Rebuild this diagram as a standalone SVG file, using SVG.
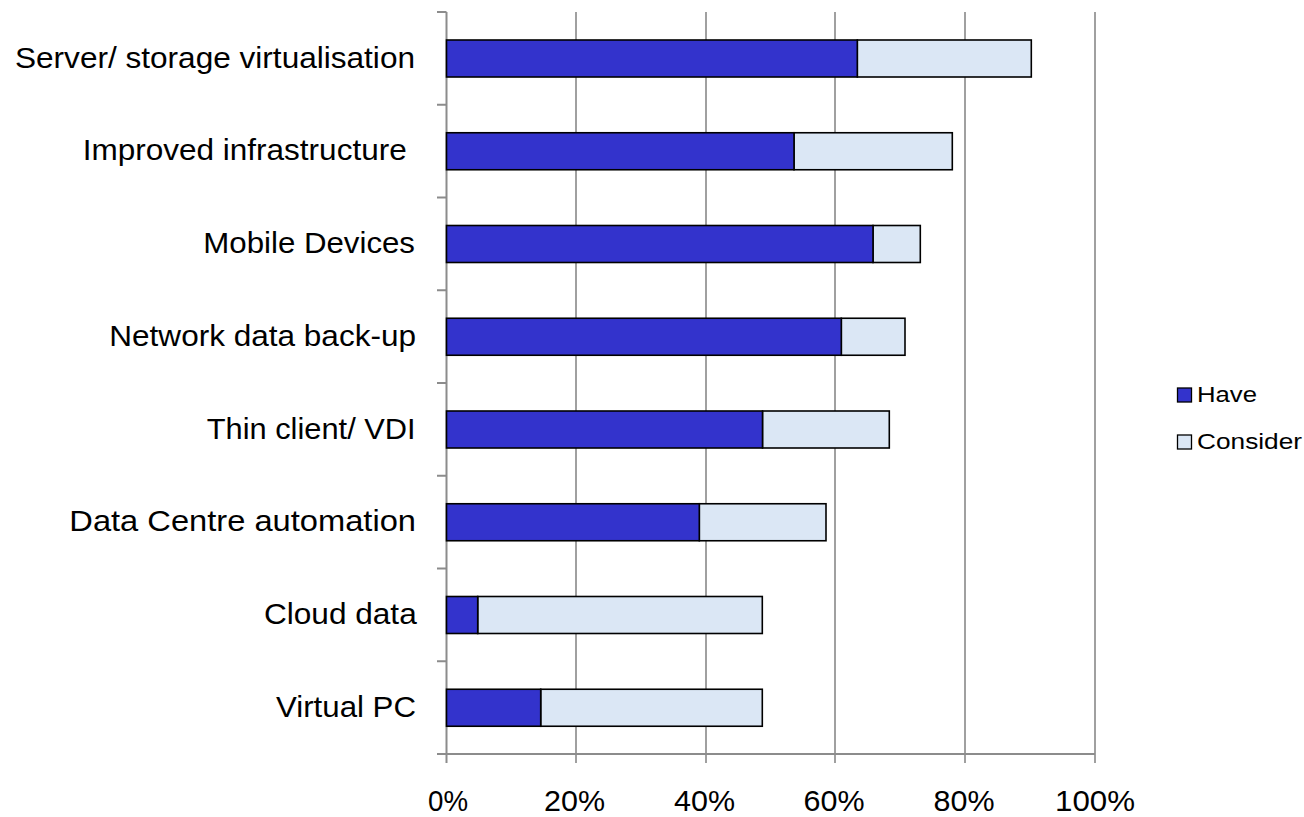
<svg xmlns="http://www.w3.org/2000/svg" width="1304" height="817" viewBox="0 0 1304 817">
<style>
.grid{stroke:#a0a0a0;stroke-width:2;fill:none}
.axis{stroke:#8c8c8c;stroke-width:2;fill:none}
.have{fill:#3333cc;stroke:#000;stroke-width:1.6}
.cons{fill:#dbe7f5;stroke:#000;stroke-width:1.6}
.lbl{font-family:"Liberation Sans",Arial,sans-serif;font-size:29.5px;fill:#000}
.leg{font-family:"Liberation Sans",Arial,sans-serif;font-size:22.5px;fill:#000}
</style>
<rect width="1304" height="817" fill="#fff"/>
<g id="gridlines">
<line class="grid" x1="576" y1="12" x2="576" y2="763"/>
<line class="grid" x1="706" y1="12" x2="706" y2="763"/>
<line class="grid" x1="835" y1="12" x2="835" y2="763"/>
<line class="grid" x1="965" y1="12" x2="965" y2="763"/>
<line class="grid" x1="1095" y1="12" x2="1095" y2="763"/>
</g>
<g id="axes">
<line class="axis" x1="446.5" y1="12" x2="446.5" y2="763"/>
<line class="axis" x1="437" y1="754" x2="1095" y2="754"/>
<path class="axis" d="M437 12H446.5M437 104.75H446.5M437 197.5H446.5M437 290.25H446.5M437 383H446.5M437 475.75H446.5M437 568.5H446.5M437 661.25H446.5"/>
</g>
<g id="bars">
<g id="bar-server"><rect class="cons" x="857.3" y="40" width="174" height="37"/><rect class="have" x="446.5" y="40" width="410.8" height="37"/></g>
<g id="bar-improved"><rect class="cons" x="794" y="132.75" width="158.3" height="37"/><rect class="have" x="446.5" y="132.75" width="347.5" height="37"/></g>
<g id="bar-mobile"><rect class="cons" x="873" y="225.5" width="47.3" height="37"/><rect class="have" x="446.5" y="225.5" width="426.5" height="37"/></g>
<g id="bar-network"><rect class="cons" x="841.3" y="318.25" width="63.7" height="37"/><rect class="have" x="446.5" y="318.25" width="394.8" height="37"/></g>
<g id="bar-thin"><rect class="cons" x="762.5" y="411" width="126.8" height="37"/><rect class="have" x="446.5" y="411" width="316" height="37"/></g>
<g id="bar-dc"><rect class="cons" x="699.3" y="503.75" width="126.7" height="37"/><rect class="have" x="446.5" y="503.75" width="252.8" height="37"/></g>
<g id="bar-cloud"><rect class="cons" x="477.7" y="596.5" width="284.6" height="37"/><rect class="have" x="446.5" y="596.5" width="31.2" height="37"/></g>
<g id="bar-vpc"><rect class="cons" x="540.7" y="689.25" width="221.6" height="37"/><rect class="have" x="446.5" y="689.25" width="94.2" height="37"/></g>
</g>
<g id="category-labels" class="lbl">
<text x="15" y="67.5" textLength="400" lengthAdjust="spacingAndGlyphs">Server/ storage virtualisation</text>
<text x="82.7" y="160.25" textLength="324" lengthAdjust="spacingAndGlyphs">Improved infrastructure</text>
<text x="203.3" y="253" textLength="211.7" lengthAdjust="spacingAndGlyphs">Mobile Devices</text>
<text x="109.3" y="345.75" textLength="306.7" lengthAdjust="spacingAndGlyphs">Network data back-up</text>
<text x="206.7" y="438.5" textLength="209" lengthAdjust="spacingAndGlyphs">Thin client/ VDI</text>
<text x="69.3" y="531.25" textLength="346.7" lengthAdjust="spacingAndGlyphs">Data Centre automation</text>
<text x="264" y="624" textLength="152.7" lengthAdjust="spacingAndGlyphs">Cloud data</text>
<text x="276" y="716.75" textLength="140" lengthAdjust="spacingAndGlyphs">Virtual PC</text>
</g>
<g id="x-labels" class="lbl">
<text x="428" y="811" textLength="40" lengthAdjust="spacingAndGlyphs">0%</text>
<text x="544" y="811" textLength="61" lengthAdjust="spacingAndGlyphs">20%</text>
<text x="674" y="811" textLength="61" lengthAdjust="spacingAndGlyphs">40%</text>
<text x="803.5" y="811" textLength="61" lengthAdjust="spacingAndGlyphs">60%</text>
<text x="933.5" y="811" textLength="61" lengthAdjust="spacingAndGlyphs">80%</text>
<text x="1055" y="811" textLength="80" lengthAdjust="spacingAndGlyphs">100%</text>
</g>
<g id="legend">
<g id="legend-have"><rect x="1177.5" y="388" width="14" height="14" fill="#3333cc" stroke="#000" stroke-width="1.3"/><text class="leg" x="1197" y="402" textLength="60" lengthAdjust="spacingAndGlyphs">Have</text></g>
<g id="legend-consider"><rect x="1177.5" y="435" width="14" height="14" fill="#dbe7f5" stroke="#000" stroke-width="1.3"/><text class="leg" x="1197" y="449" textLength="105" lengthAdjust="spacingAndGlyphs">Consider</text></g>
</g>
</svg>
